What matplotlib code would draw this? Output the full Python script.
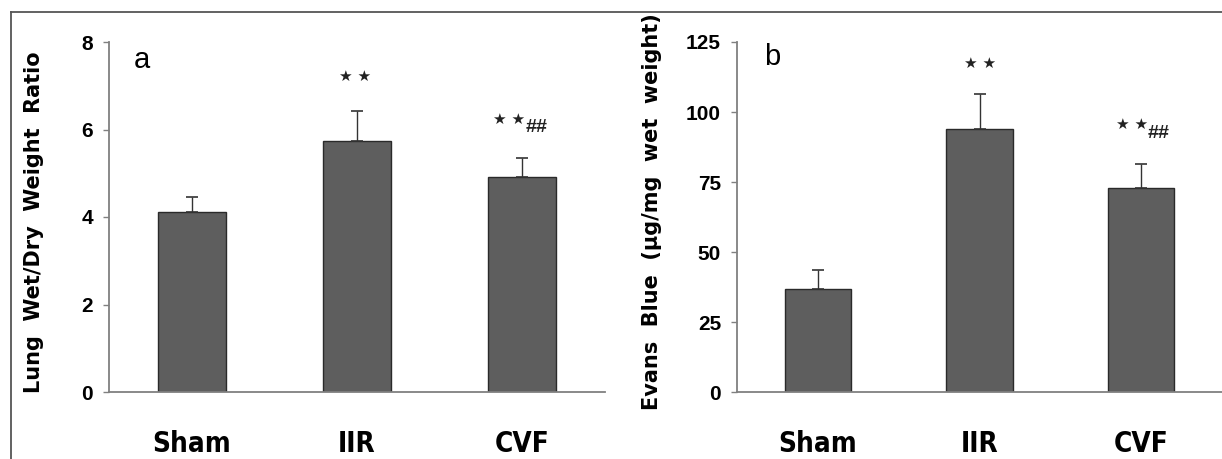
import matplotlib
matplotlib.use("Agg")
import matplotlib.pyplot as plt
from matplotlib import font_manager
from matplotlib.font_manager import FontProperties

categories = ["Sham", "IIR", "CVF"]
ratio_vals = [4.11, 5.73, 4.92]
ratio_err = [0.34, 0.69, 0.44]
evans_vals = [36.8, 93.9, 72.8]
evans_err = [6.8, 12.6, 8.6]
ratio_ticks = [0, 2, 4, 6, 8]
evans_ticks = [0, 25, 50, 75, 100, 125]

# find a narrow bold font if present
narrow_fp = None
for f in font_manager.fontManager.ttflist:
    fn = f.fname.lower()
    if ("narrow" in fn or "condensed" in fn) and "bold" in fn and "italic" not in fn and "oblique" not in fn:
        if "liberation" in fn or "dejavu" in fn or "arial" in fn:
            narrow_fp = f.fname
            break
if narrow_fp:
    xtick_fp = FontProperties(fname=narrow_fp, size=20)
else:
    xtick_fp = FontProperties(family="Liberation Sans", weight="bold", size=18)

W, H = 1222, 459
fig = plt.figure(figsize=(W / 100, H / 100), dpi=100)

# outer frame lines (top and left)
fig.add_artist(plt.Line2D([10.5 / W, 10.5 / W], [0, 1 - 12 / H], transform=fig.transFigure,
                          color="#555555", lw=1.3))
fig.add_artist(plt.Line2D([10.5 / W, 1], [1 - 12 / H, 1 - 12 / H], transform=fig.transFigure,
                          color="#555555", lw=1.3))

bar_color = "#5e5e5e"
axis_color = "#808080"


def make_panel(rect, vals, errs, ticks, ylim, ylabel, label_xy, letter, letter_xy, ann):
    ax = fig.add_axes(rect)
    x = list(range(len(categories)))
    ax.bar(x, vals, width=0.41, color=bar_color, edgecolor="#2a2a2a", linewidth=1.0, zorder=2)
    ax.errorbar(x, vals, yerr=[[0] * len(errs), errs], fmt="none", ecolor="#333333",
                elinewidth=1.0, capsize=4, capthick=1.2, zorder=3)
    ax.set_ylim(*ylim)
    ax.set_xlim(-0.5, 2.5)
    ax.set_yticks(ticks)
    ax.set_yticklabels([str(t) for t in ticks], fontfamily="Liberation Sans",
                       fontweight="bold", fontsize=15)
    ax.set_xticks(x)
    ax.set_xticklabels(categories)
    for lab in ax.get_xticklabels():
        lab.set_fontproperties(xtick_fp)
    ax.tick_params(axis="x", length=0, pad=27)
    ax.tick_params(axis="y", length=4.5, width=1, color=axis_color, pad=7, direction="out")
    for s in ["top", "right"]:
        ax.spines[s].set_visible(False)
    for s in ["left", "bottom"]:
        ax.spines[s].set_color(axis_color)
        ax.spines[s].set_linewidth(1.3)
    ax.set_facecolor("none")
    fig.text(label_xy[0] / W, 1 - label_xy[1] / H, ylabel, rotation=90, ha="center", va="center",
             fontfamily="DejaVu Sans", fontweight="bold", fontsize=15)
    fig.text(letter_xy[0] / W, 1 - letter_xy[1] / H, letter, fontsize=21,
             fontfamily="Liberation Sans", va="center", ha="center")
    for xi, yv, dx, sub in ann:
        ax.annotate("★ ★", xy=(xi, yv), xytext=(dx, 0), textcoords="offset pixels",
                    ha="center", va="center", fontsize=11, fontfamily="DejaVu Sans", color="#222222")
        if sub:
            ax.annotate(sub[0], xy=(xi, yv), xytext=(sub[1], sub[2]), textcoords="offset pixels",
                        ha="center", va="center", fontsize=14, fontfamily="Liberation Sans",
                        fontweight="bold", color="#222222")
    return ax


# Panel a: y 0 at 392 px, 8 at 42 px
make_panel([109 / W, 1 - 392 / H, 496 / W, 350 / H], ratio_vals, ratio_err, ratio_ticks, (0, 8),
           "Lung  Wet/Dry  Weight  Ratio", (34, 222), "a", (142, 60),
           [(1, 7.22, -2, None), (2, 6.24, -13, ("##", 14, -9))])

# Panel b: y 0 at 392 px, 125 at 42 px
make_panel([737 / W, 1 - 392 / H, 485 / W, 350 / H], evans_vals, evans_err, evans_ticks, (0, 125),
           "Evans  Blue  (µg/mg  wet  weight)", (652, 212), "b", (772, 57),
           [(1, 117.3, 1, None), (2, 95.4, -9, ("##", 17, -9))])

fig.savefig("out.png", dpi=100)
